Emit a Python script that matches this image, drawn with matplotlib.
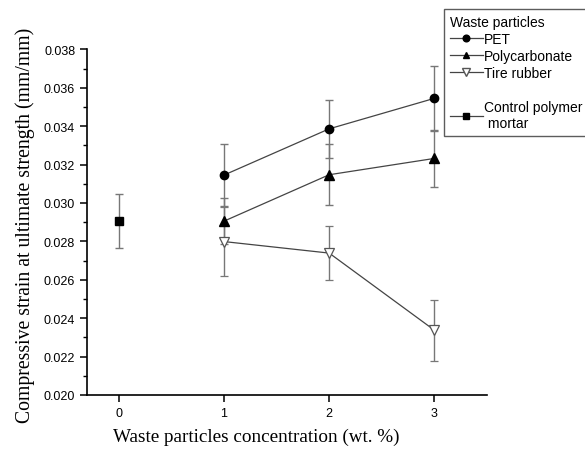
import matplotlib
matplotlib.use("Agg")
import matplotlib.pyplot as plt
from matplotlib.ticker import MultipleLocator
from matplotlib.lines import Line2D

x_waste = [1, 2, 3]
pet = [0.03145, 0.03386, 0.03545]
pet_err = [0.0016, 0.0015, 0.0017]
pc = [0.02905, 0.03147, 0.03232]
pc_err = [0.0012, 0.0016, 0.0015]
tire = [0.02799, 0.02739, 0.02337]
tire_err = [0.0018, 0.0014, 0.0016]
x_ctrl = [0]
ctrl = [0.02905]
ctrl_err = [0.0014]

plt.rcParams['font.family'] = ['Liberation Sans', 'DejaVu Sans']
fig = plt.figure(figsize=(5.85, 4.56), dpi=100)
ax = fig.add_axes([0.1487, 0.1316, 0.684, 0.758])

ecol = '#777777'
lcol = '#444444'
kw = dict(ecolor=ecol, elinewidth=1.0, capsize=2.6, capthick=1.0, color=lcol, lw=0.9, zorder=3)
ax.errorbar(x_waste, pet, yerr=pet_err, marker='o', ms=6, mfc='black', mec='black', **kw)
ax.errorbar(x_waste, pc, yerr=pc_err, marker='^', ms=6.5, mfc='black', mec='black', **kw)
ax.errorbar(x_waste, tire, yerr=tire_err, marker='v', ms=6.8, mfc='white', mec='#555555', mew=0.9, **kw)
ax.errorbar(x_ctrl, ctrl, yerr=ctrl_err, marker='s', ms=5.3, mfc='black', mec='black', ls='none',
            ecolor=ecol, elinewidth=1.0, capsize=2.6, capthick=1.0, zorder=3)

ax.set_xlim(-0.3, 3.5)
ax.set_ylim(0.020, 0.038)
ax.set_xticks([0, 1, 2, 3])
ax.yaxis.set_major_locator(MultipleLocator(0.002))
ax.yaxis.set_minor_locator(MultipleLocator(0.001))
ax.yaxis.set_major_formatter(matplotlib.ticker.FormatStrFormatter('%.3f'))
for s in ['top', 'right']:
    ax.spines[s].set_visible(False)
for s in ['left', 'bottom']:
    ax.spines[s].set_linewidth(1.2)
ax.tick_params(axis='both', which='major', direction='out', length=5, width=1.1, labelsize=9)
ax.tick_params(axis='y', which='minor', direction='out', length=3, width=1.0)

ax.set_xlabel('Waste particles concentration (wt. %)', family='Liberation Serif', fontsize=13.8)
ax.xaxis.set_label_coords(0.4225, -0.095)
ax.set_ylabel('Compressive strain at ultimate strength (mm/mm)', family='Liberation Serif', fontsize=14.2)
ax.yaxis.set_label_coords(-0.13, 0.495)

handles = [
    Line2D([], [], color=lcol, lw=0.9, marker='o', ms=4.8, mfc='black', mec='black'),
    Line2D([], [], color=lcol, lw=0.9, marker='^', ms=5, mfc='black', mec='black'),
    Line2D([], [], color=lcol, lw=0.9, marker='v', ms=5.5, mfc='white', mec='#555555'),
    Line2D([], [], color='none'),
    Line2D([], [], color=lcol, lw=0.9, marker='s', ms=3.8, mfc='black', mec='black'),
]
labels = ['PET', 'Polycarbonate', 'Tire rubber', '', 'Control polymer\n mortar']
leg = fig.legend(handles, labels, title='Waste particles', loc='upper left',
                 bbox_to_anchor=(444/585, 1 - 10/456), frameon=True, fancybox=False,
                 edgecolor='#333333', fontsize=10, title_fontsize=10, handlelength=2.4,
                 handletextpad=0.1, labelspacing=0.22, borderpad=0.4, borderaxespad=0)
leg._legend_box.align = 'left'
leg.get_frame().set_linewidth(1.0)

fig.savefig('out.png', dpi=100)
